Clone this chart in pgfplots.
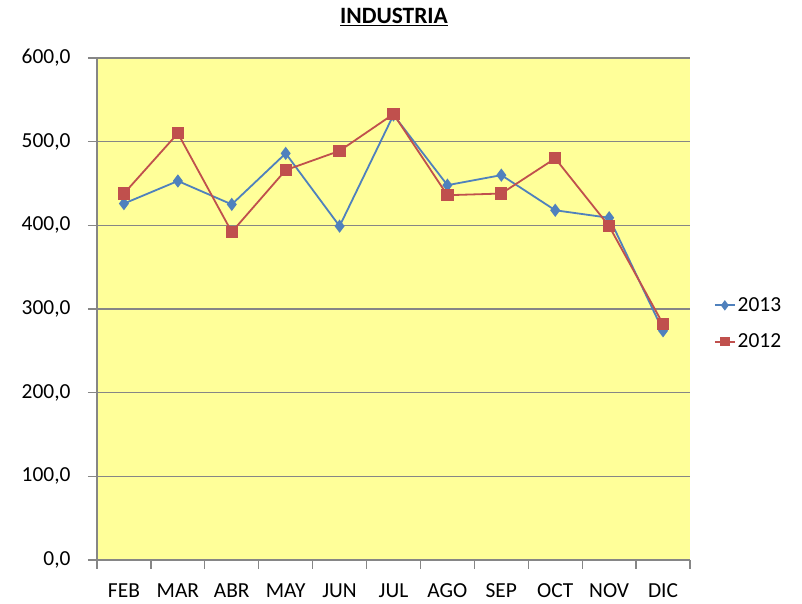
\documentclass[border=0pt]{standalone}
\usepackage{fontspec}
\setmainfont{Carlito}
\usepackage{pgfplots}
\usepackage{pgfplotstable}
\pgfplotsset{compat=1.18}
\definecolor{bgyellow}{RGB}{255,255,153}
\definecolor{gridgray}{RGB}{134,134,134}
\definecolor{s2013}{RGB}{79,129,189}
\definecolor{s2012}{RGB}{192,80,77}
\pgfplotstableread{
x y2013 y2012
0 426 438
1 453 510
2 425 392
3 486 466
4 399 489
5 532 533
6 448 436
7 460 438
8 418 480
9 409 399
10 274 282
}\datatable
\begin{document}
\begin{tikzpicture}[font=\fontsize{21.5}{25}\selectfont]
\path[use as bounding box] (0,0) rectangle (802bp,604bp);
\node at (394bp,587bp) {\fontsize{23.5}{26}\selectfont\underline{\textbf{INDUSTRIA}}};
\begin{axis}[
  at={(97bp,44bp)}, anchor=south west,
  scale only axis, width=593bp, height=502bp,
  xmin=-0.5, xmax=10.5, ymin=0, ymax=600,
  axis line style={draw=none},
  axis background/.style={fill=bgyellow, draw=none},
  xtick pos=bottom, ytick pos=left,
  xtick={0,...,10},
  xticklabels={FEB,MAR,ABR,MAY,JUN,JUL,AGO,SEP,OCT,NOV,DIC},
  major x tick style={draw=none},
  xmajorgrids=false, xminorgrids=false,
  extra x ticks={-0.5,0.5,...,10.5},
  extra x tick labels={},
  extra x tick style={grid=none, major x tick style={draw=gridgray, line width=1.2bp}},
  ytick={0,100,...,600},
  ymajorgrids,
  major grid style={gridgray, line width=1.5bp},
  major y tick style={gridgray, line width=1.2bp},
  major tick length=9bp,
  tick align=outside,
  xticklabel style={yshift=-11bp},
  yticklabel style={xshift=-14bp, /pgf/number format/.cd, fixed, fixed zerofill, precision=1, use comma, 1000 sep={}, assume math mode=true},
  legend style={at={(1.04,0.471)}, anchor=west, draw=none, fill=none, row sep=17bp, font=\fontsize{21.5}{25}\selectfont, inner sep=0pt},
  legend cell align=left,
  legend image code/.code={\draw[#1, mark size=3.8bp, mark repeat=2, mark phase=2] plot coordinates {(0bp,0bp) (10bp,0bp) (20bp,0bp)};},
  clip=false,
]
\draw[gridgray, line width=1.2bp] (rel axis cs:0,1) -- (rel axis cs:0,0) -- (rel axis cs:1,0);
\addplot[s2013, line width=1.8bp, mark=diamond*, mark size=5.2bp, mark options={solid, fill=s2013}] table[x=x, y=y2013] {\datatable};
\addlegendentry{2013}
\addplot[s2012, line width=1.8bp, mark=square*, mark size=5.2bp, mark options={solid, fill=s2012}] table[x=x, y=y2012] {\datatable};
\addlegendentry{2012}
\end{axis}
\end{tikzpicture}
\end{document}
